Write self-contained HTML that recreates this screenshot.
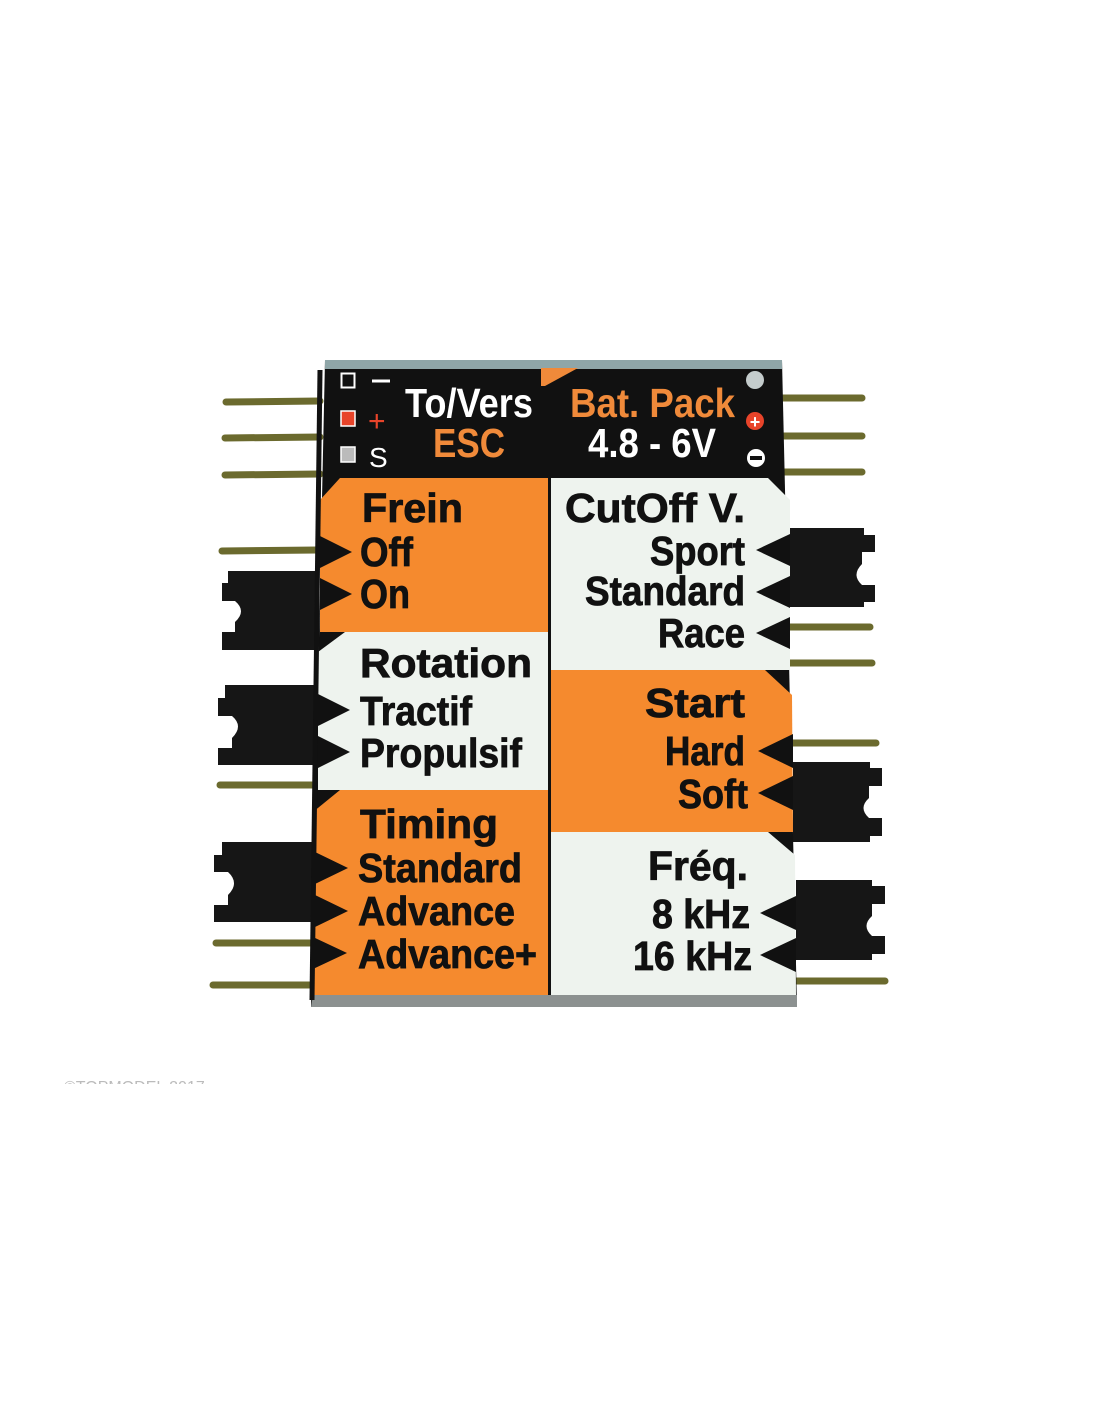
<!DOCTYPE html>
<html><head><meta charset="utf-8"><style>
html,body{margin:0;padding:0;background:#fff;width:1100px;height:1422px;overflow:hidden}
svg{display:block}
text{font-family:"Liberation Sans",sans-serif;font-weight:bold}
</style></head><body>
<svg width="1100" height="1422" viewBox="0 0 1100 1422" xmlns="http://www.w3.org/2000/svg">
<g stroke="#6b6a2e" stroke-width="7" stroke-linecap="round">
<line x1="226" y1="402" x2="320" y2="401"/>
<line x1="225" y1="438" x2="320" y2="437"/>
<line x1="225" y1="475" x2="320" y2="474"/>
<line x1="222" y1="551" x2="318" y2="550"/>
<line x1="220" y1="785" x2="315" y2="785"/>
<line x1="216" y1="943" x2="312" y2="943"/>
<line x1="213" y1="985" x2="310" y2="985"/>
<line x1="782" y1="398" x2="862" y2="398"/>
<line x1="782" y1="436" x2="862" y2="436"/>
<line x1="782" y1="472" x2="862" y2="472"/>
<line x1="788" y1="627" x2="870" y2="627"/>
<line x1="788" y1="663" x2="872" y2="663"/>
<line x1="792" y1="743" x2="876" y2="743"/>
<line x1="796" y1="981" x2="885" y2="981"/>
</g>
<g fill="#161616">
<path d="M228 571 H318 V650 H222 V632 H235 V622 Q247 611 235 601 H222 V583 H228 Z"/>
<path d="M225 685 H316 V765 H218 V748 H232 V738 Q244 726 232 716 H218 V698 H225 Z"/>
<path d="M222 842 H313 V922 H214 V905 H228 V895 Q240 883 228 872 H214 V855 H222 Z"/>
<path d="M786 528 H864 V535 H875 V552 H862 V564 Q851 575 862 585 H875 V602 H864 V607 H786 Z"/>
<path d="M793 762 H870 V768 H882 V786 H869 V798 Q858 808 869 818 H882 V836 H870 V842 H793 Z"/>
<path d="M796 880 H872 V886 H885 V904 H872 V916 Q861 926 872 936 H885 V954 H872 V960 H796 Z"/>
</g>
<polygon points="325,360 782,360 797,1007 311,1007" fill="#111"/>
<polygon points="325,360 782,360 782,369 325,369" fill="#8fa6a8"/>
<polygon points="313,995 797,995 797,1007 311,1007" fill="#8c9190"/>
<polygon points="340,478 549,478 549,632 320,632 320,500" fill="#f58a2e"/>
<polygon points="345,632 549,632 549,790 318,790 318,652" fill="#eef3ee"/>
<polygon points="340,790 549,790 549,995 313,995 313,812" fill="#f58a2e"/>
<polygon points="551,478 768,478 790,500 790,670 551,670" fill="#eef3ee"/>
<polygon points="551,670 765,670 792,695 793,832 551,832" fill="#f58a2e"/>
<polygon points="551,832 768,832 795,855 796,995 551,995" fill="#eef3ee"/>
<line x1="549.5" y1="478" x2="549.5" y2="995" stroke="#111" stroke-width="3"/>
<line x1="320" y1="370" x2="312" y2="1000" stroke="#111" stroke-width="5"/>
<polygon points="541,368 578,368 545,386 541,386" fill="#f08a3a"/>
<rect x="341.5" y="373.5" width="13" height="14" fill="#111" stroke="#fff" stroke-width="2"/>
<rect x="341" y="411" width="14" height="15" fill="#e8442a" stroke="#fff" stroke-width="1.5"/>
<rect x="341" y="447" width="14" height="15" fill="#bbb" stroke="#fff" stroke-width="1.5"/>
<line x1="372" y1="381" x2="390" y2="381" stroke="#fff" stroke-width="3"/>
<text x="368" y="431" fill="#e8442a" font-size="30" style="font-weight:normal">+</text>
<text x="369" y="467" fill="#fff" font-size="28" style="font-weight:normal">S</text>
<circle cx="755" cy="380" r="9" fill="#c4cccc"/>
<circle cx="755" cy="421" r="9" fill="#e8442a"/>
<text x="755" y="428" fill="#fff" font-size="18" text-anchor="middle">+</text>
<circle cx="756" cy="458" r="9" fill="#fff"/>
<rect x="750" y="456" width="12" height="4" fill="#111"/>
<text x="405" y="417" fill="#fff" font-size="41" textLength="128" lengthAdjust="spacingAndGlyphs">To/Vers</text>
<text x="433" y="457" fill="#f08a3a" font-size="41" textLength="72" lengthAdjust="spacingAndGlyphs">ESC</text>
<text x="570" y="417" fill="#f08a3a" font-size="41" textLength="165" lengthAdjust="spacingAndGlyphs">Bat. Pack</text>
<text x="588" y="457" fill="#fff" font-size="41" textLength="128" lengthAdjust="spacingAndGlyphs">4.8 - 6V</text>
<g fill="#111" font-size="41" stroke="#111" stroke-width="0.8">
<text x="362" y="522" textLength="101" lengthAdjust="spacingAndGlyphs">Frein</text>
<text x="360" y="566" textLength="53" lengthAdjust="spacingAndGlyphs">Off</text>
<text x="360" y="608" textLength="50" lengthAdjust="spacingAndGlyphs">On</text>
<text x="360" y="677" textLength="172" lengthAdjust="spacingAndGlyphs">Rotation</text>
<text x="360" y="725" textLength="112" lengthAdjust="spacingAndGlyphs">Tractif</text>
<text x="360" y="767" textLength="162" lengthAdjust="spacingAndGlyphs">Propulsif</text>
<text x="360" y="838" textLength="138" lengthAdjust="spacingAndGlyphs">Timing</text>
<text x="358" y="882" textLength="164" lengthAdjust="spacingAndGlyphs">Standard</text>
<text x="358" y="925" textLength="157" lengthAdjust="spacingAndGlyphs">Advance</text>
<text x="358" y="968" textLength="179" lengthAdjust="spacingAndGlyphs">Advance+</text>
<text x="565" y="522" textLength="180" lengthAdjust="spacingAndGlyphs">CutOff V.</text>
<text x="650" y="565" textLength="95" lengthAdjust="spacingAndGlyphs">Sport</text>
<text x="585" y="605" textLength="160" lengthAdjust="spacingAndGlyphs">Standard</text>
<text x="658" y="647" textLength="87" lengthAdjust="spacingAndGlyphs">Race</text>
<text x="645" y="717" textLength="100" lengthAdjust="spacingAndGlyphs">Start</text>
<text x="665" y="765" textLength="80" lengthAdjust="spacingAndGlyphs">Hard</text>
<text x="678" y="808" textLength="70" lengthAdjust="spacingAndGlyphs">Soft</text>
<text x="648" y="880" textLength="100" lengthAdjust="spacingAndGlyphs">Fréq.</text>
<text x="652" y="928" textLength="98" lengthAdjust="spacingAndGlyphs">8 kHz</text>
<text x="633" y="970" textLength="119" lengthAdjust="spacingAndGlyphs">16 kHz</text>
</g>
<g fill="#111">
<polygon points="320,536 352,552 320,568"/>
<polygon points="320,578 352,594 320,610"/>
<polygon points="318,694 350,710 318,726"/>
<polygon points="318,736 350,752 318,768"/>
<polygon points="315,852 348,868 315,884"/>
<polygon points="315,895 348,911 315,927"/>
<polygon points="313,937 347,953 313,969"/>
<polygon points="790,534 756,550 790,566"/>
<polygon points="790,576 756,592 790,608"/>
<polygon points="790,617 756,633 790,649"/>
<polygon points="793,734 758,751 793,768"/>
<polygon points="793,776 758,793 793,810"/>
<polygon points="796,896 760,913 796,930"/>
<polygon points="796,938 760,955 796,972"/>
</g>
<svg x="0" y="1070" width="300" height="14" overflow="hidden">
<text x="64" y="22" fill="#bbb" font-size="16" style="font-weight:normal">©TOPMODEL 2017</text>
</svg>
</svg>
</body></html>
